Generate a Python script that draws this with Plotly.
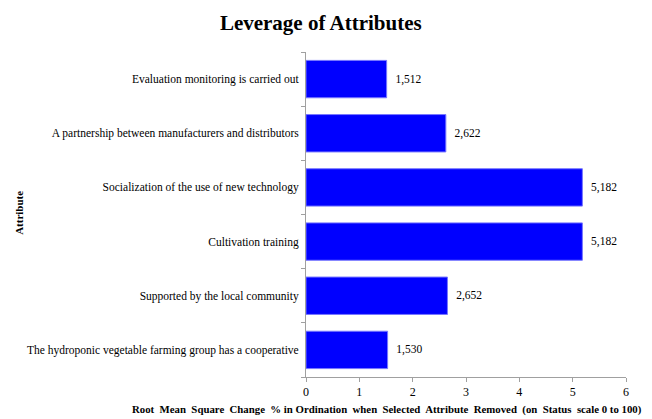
import plotly.graph_objects as go

# Attributes listed bottom-to-top as they appear on the axis
attributes = [
    "The hydroponic vegetable farming group has a cooperative",
    "Supported by the local community",
    "Cultivation training",
    "Socialization of the use of new technology",
    "A partnership between manufacturers and distributors",
    "Evaluation monitoring is carried out",
]
leverage = [1.530, 2.652, 5.182, 5.182, 2.622, 1.512]
x_ticks = [0, 1, 2, 3, 4, 5, 6]

SERIF = "Liberation Serif"

fig = go.Figure(
    go.Bar(
        y=attributes,
        x=leverage,
        orientation="h",
        marker=dict(color="#0000FF", line=dict(color="#7777FF", width=1)),
        texttemplate="  %{x:.3f}",
        textposition="outside",
        textfont=dict(family=SERIF, size=11.5, color="black"),
        cliponaxis=False,
    )
)

fig.update_layout(
    width=652,
    height=419,
    margin=dict(l=306, r=26, t=52, b=42),
    paper_bgcolor="white",
    plot_bgcolor="white",
    separators=",.",
    bargap=0.31,
    showlegend=False,
    font=dict(family=SERIF, size=11.5, color="black"),
    title=dict(
        text="<b>Leverage of Attributes</b>",
        x=0.492,
        xanchor="center",
        y=0.947,
        yanchor="middle",
        font=dict(family=SERIF, size=21, color="black"),
    ),
    xaxis=dict(
        range=[0, 6],
        tickvals=x_ticks,
        showgrid=False,
        zeroline=False,
        showline=True,
        linecolor="#A0A0A0",
        linewidth=1,
        ticks="outside",
        ticklen=4,
        tickcolor="#A0A0A0",
        tickfont=dict(family=SERIF, size=12, color="black"),
    ),
    yaxis=dict(
        showgrid=False,
        zeroline=False,
        showline=True,
        linecolor="#A0A0A0",
        linewidth=1,
        ticks="outside",
        ticklen=4,
        tickcolor="#A0A0A0",
        tickson="boundaries",
        ticklabelstandoff=4,
        tickfont=dict(family=SERIF, size=11.5, color="black"),
    ),
    annotations=[
        dict(
            text="<b>Attribute</b>",
            xref="paper",
            yref="paper",
            x=-0.897,
            xanchor="center",
            y=0.505,
            yanchor="middle",
            textangle=-90,
            showarrow=False,
            font=dict(family=SERIF, size=11, color="black"),
        ),
        dict(
            text="<b>Root\u00a0 Mean\u00a0 Square\u00a0 Change\u00a0 % in Ordination\u00a0 when\u00a0 "
                 "Selected\u00a0 Attribute\u00a0 Removed\u00a0 (on\u00a0 Status\u00a0 scale 0 to 100)</b>",
            xref="paper",
            yref="paper",
            x=0.2516,
            xanchor="center",
            y=-0.1015,
            yanchor="middle",
            showarrow=False,
            font=dict(family=SERIF, size=10.8, color="black"),
        ),
    ],
)

fig.write_html("out.html")
